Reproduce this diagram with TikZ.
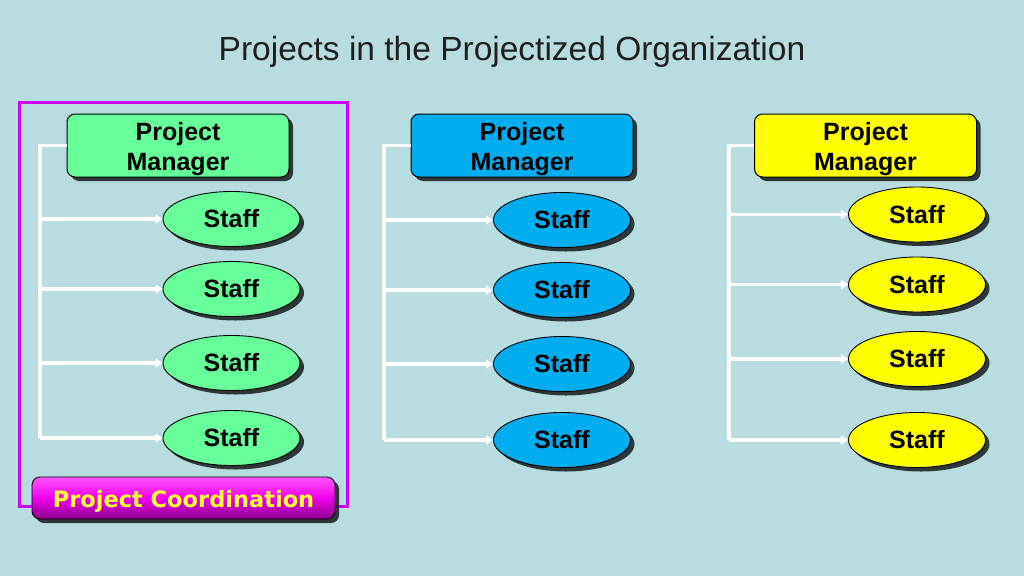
\documentclass[tikz,border=0pt]{standalone}
\usepackage{fontspec}
\setmainfont{Liberation Sans}
\newfontfamily\verd{DejaVu Sans}
\usetikzlibrary{shapes.geometric,shadows,arrows.meta}
\definecolor{bg}{HTML}{B8DDE1}
\definecolor{grn}{HTML}{66FF99}
\definecolor{blu}{HTML}{00AEEF}
\definecolor{yel}{HTML}{FFFF00}
\definecolor{frm}{HTML}{CC00FF}
\definecolor{pctop}{HTML}{FF55FF}
\definecolor{pcmid}{HTML}{F000F0}
\definecolor{pcbot}{HTML}{8A008A}
\definecolor{pctext}{HTML}{FFFF33}
\newcommand{\pmtext}{\raisebox{-3.5pt}[\height][\depth]{\setlength{\tabcolsep}{0pt}\begin{tabular}{c}Project\\Manager\end{tabular}}}
\begin{document}
\begin{tikzpicture}[x=1pt,y=-1pt,
  shad/.style={drop shadow={fill=black,opacity=0.75,shadow xshift=4pt,shadow yshift=-4pt}},
  pmbox/.style={shad,draw=black,line width=1pt,rounded corners=8pt,minimum width=222pt,minimum height=63pt,inner sep=0pt,align=center,font=\bfseries\fontsize{25}{30}\selectfont},
  staff/.style={shad,ellipse,draw=black,line width=0.9pt,minimum width=137pt,minimum height=55pt,inner sep=0pt,font=\bfseries\fontsize{25}{30}\selectfont},
  spine/.style={draw=white,line width=3.2pt},
  arr/.style={draw=white,line width=3.2pt,-{Triangle[length=7pt,width=9pt]}},
  frame/.style={draw=frm,line width=3pt},
  coord/.style={shad,draw=black,line width=0.9pt,rounded corners=8pt,minimum width=303pt,minimum height=42pt,inner sep=0pt,top color=pctop,bottom color=pcbot,middle color=pcmid,text=pctext,font=\verd\bfseries\fontsize{22.5}{26}\selectfont}
]
\fill[bg] (0,0) rectangle (1024,576);
\useasboundingbox (0,0) rectangle (1024,576);

\node[text=black!88] (title) at (512,52) {\fontsize{33.5}{40}\selectfont Projects in the Projectized Organization};

% frame
\draw[frame] (19,102.5) rectangle (347.5,506.5);

% column 1
\node[pmbox,fill=grn] (pm1) at (178,145.5) {\pmtext};
\node[staff,fill=grn] (e1a) at (231.5,219) {Staff};
\node[staff,fill=grn] (e1b) at (231.5,289) {Staff};
\node[staff,fill=grn] (e1c) at (231.5,363) {Staff};
\node[staff,fill=grn] (e1d) at (231.5,438) {Staff};
\coordinate (s1) at (40,0);
\coordinate (s1end) at (40,438);
\draw[spine] (pm1.west) -| (s1end);
\foreach \e in {e1a,e1b,e1c,e1d}{\draw[arr] (\e.west -| s1) -- (\e.west);}

% column 2
\node[pmbox,fill=blu] (pm2) at (522,145.5) {\pmtext};
\node[staff,fill=blu] (e2a) at (562,220) {Staff};
\node[staff,fill=blu] (e2b) at (562,290) {Staff};
\node[staff,fill=blu] (e2c) at (562,364) {Staff};
\node[staff,fill=blu] (e2d) at (562,440) {Staff};
\coordinate (s2) at (384,0);
\coordinate (s2end) at (384,440);
\draw[spine] (pm2.west) -| (s2end);
\foreach \e in {e2a,e2b,e2c,e2d}{\draw[arr] (\e.west -| s2) -- (\e.west);}

% column 3
\node[pmbox,fill=yel] (pm3) at (865.5,145.5) {\pmtext};
\node[staff,fill=yel] (e3a) at (917,214.5) {Staff};
\node[staff,fill=yel] (e3b) at (917,284.5) {Staff};
\node[staff,fill=yel] (e3c) at (917,359) {Staff};
\node[staff,fill=yel] (e3d) at (917,440) {Staff};
\coordinate (s3) at (729,0);
\coordinate (s3end) at (729,440);
\draw[spine] (pm3.west) -| (s3end);
\foreach \e in {e3a,e3b,e3c,e3d}{\draw[arr] (\e.west -| s3) -- (\e.west);}

% coordination
\node[coord] (pc) at (183.5,498) {\raisebox{-3pt}[\height][\depth]{Project Coordination}};
\end{tikzpicture}
\end{document}
